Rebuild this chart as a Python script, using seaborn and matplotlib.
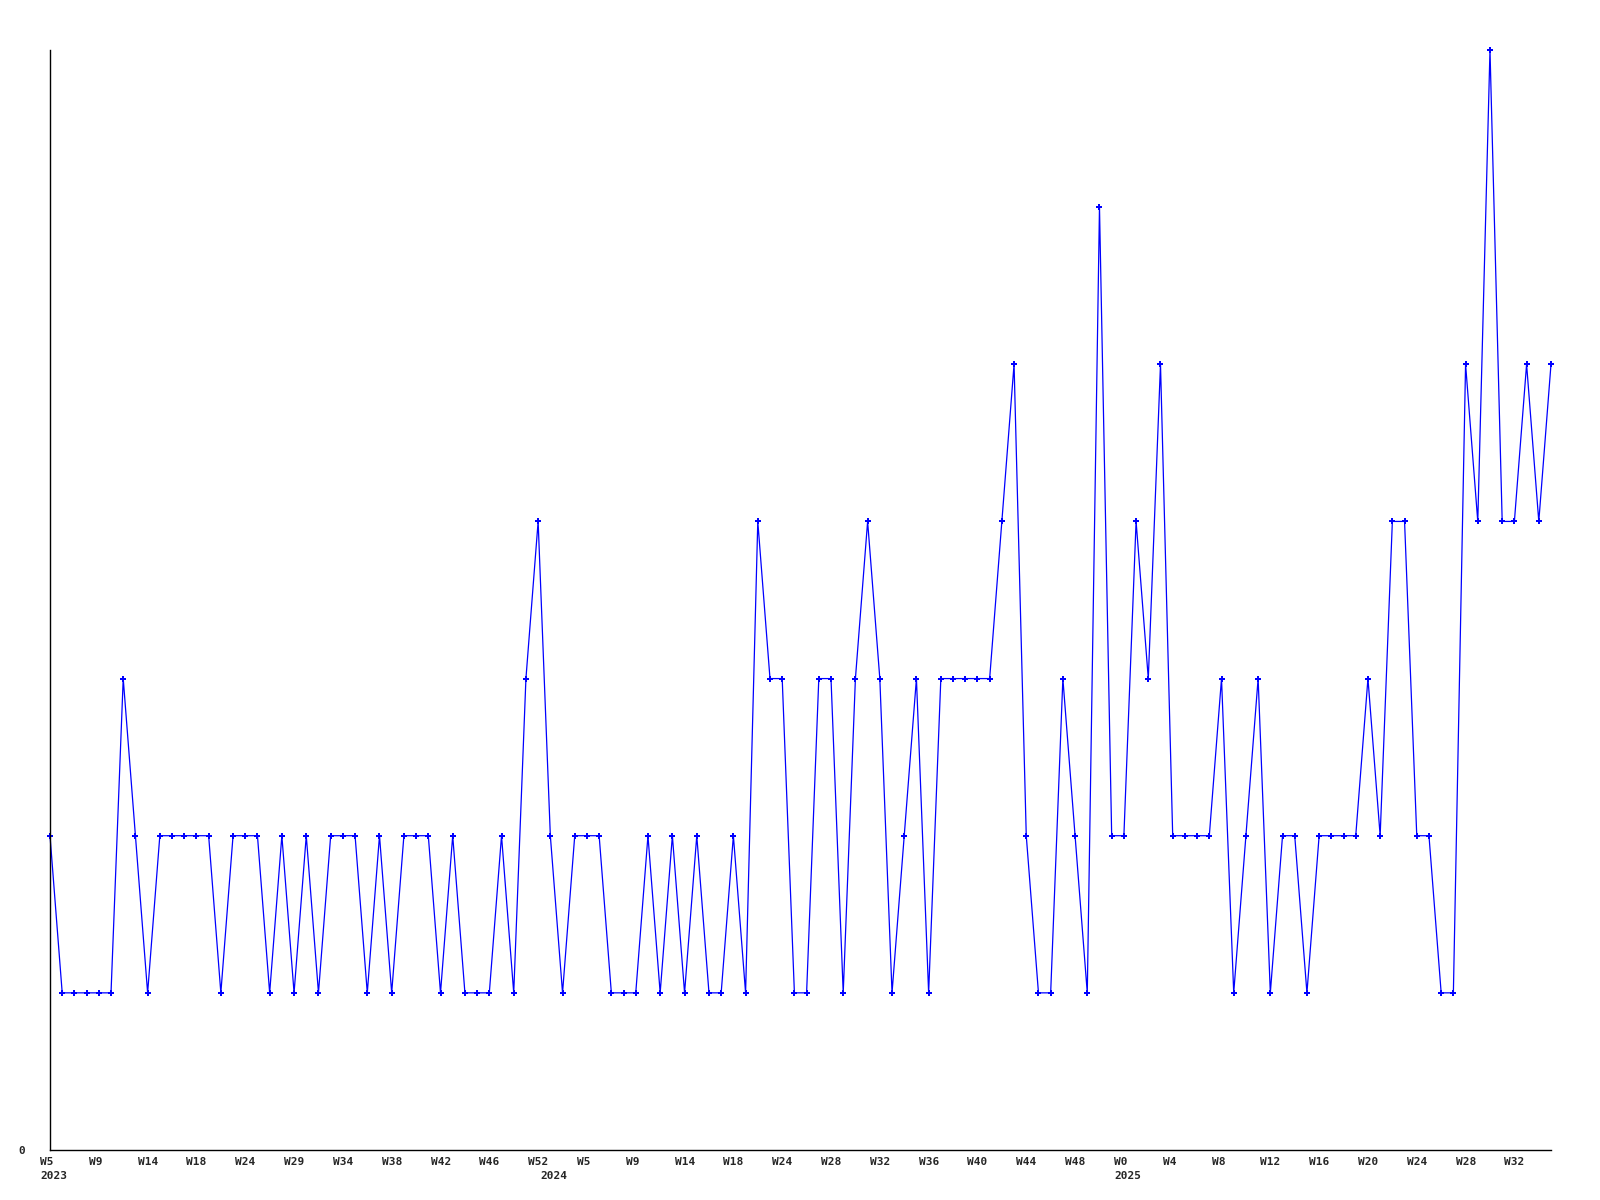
import matplotlib
matplotlib.use('Agg')
import matplotlib.pyplot as plt
import matplotlib.transforms as mtransforms
import seaborn as sns
import pandas as pd

# weekly counts, one point per week that had data
values = [2, 1, 1, 1, 1, 1, 3, 2, 1, 2, 2, 2, 2, 2, 1, 2, 2, 2, 1, 2,
          1, 2, 1, 2, 2, 2, 1, 2, 1, 2, 2, 2, 1, 2, 1, 1, 1, 2, 1, 3,
          4, 2, 1, 2, 2, 2, 1, 1, 1, 2, 1, 2, 1, 2, 1, 1, 2, 1, 4, 3,
          3, 1, 1, 3, 3, 1, 3, 4, 3, 1, 2, 3, 1, 3, 3, 3, 3, 3, 4, 5,
          2, 1, 1, 3, 2, 1, 6, 2, 2, 4, 3, 5, 2, 2, 2, 2, 3, 1, 2, 3,
          1, 2, 2, 1, 2, 2, 2, 2, 3, 2, 4, 4, 2, 2, 1, 1, 5, 4, 7, 4,
          4, 5, 4, 5]

week_labels = ['W5', 'W9', 'W14', 'W18', 'W24', 'W29', 'W34', 'W38', 'W42', 'W46', 'W52',
               'W5', 'W9', 'W14', 'W18', 'W24', 'W28', 'W32', 'W36', 'W40', 'W44', 'W48',
               'W0', 'W4', 'W8', 'W12', 'W16', 'W20', 'W24', 'W28', 'W32']
week_label_pos = list(range(0, 121, 4))

years = ['2023', '2024', '2025']
year_pos = [0, 41, 88]

df = pd.DataFrame({'idx': range(len(values)), 'count': values})

sns.set_style('white')
plt.rcParams['font.family'] = ['DejaVu Sans Mono']
plt.rcParams['font.weight'] = 'bold'

fig = plt.figure(figsize=(16, 12), dpi=100)
ax = fig.add_axes([50 / 1600, 50 / 1200, 1501 / 1600, 1100 / 1200])

sns.lineplot(data=df, x='idx', y='count', ax=ax, color='#0000ff', linewidth=0.9,
             marker='P', markersize=4, markeredgewidth=0, clip_on=False)

ax.set_xlim(0, len(values) - 1)
ax.set_ylim(0, max(values))

for s in ['top', 'right']:
    ax.spines[s].set_visible(False)
for s in ['left', 'bottom']:
    ax.spines[s].set_color('black')
    ax.spines[s].set_linewidth(1.0)

# years sit under some week ticks, keep both
ax.xaxis.remove_overlapping_locs = False
ax.set_xticks(week_label_pos)
ax.set_xticklabels(week_labels, ha='left', fontsize=8, fontweight='bold')
ax.set_xticks(year_pos, minor=True)
ax.set_xticklabels(years, minor=True, ha='left', fontsize=8, fontweight='bold')
ax.tick_params(axis='x', which='major', length=0, pad=5)
ax.tick_params(axis='x', which='minor', length=0, pad=15)

ax.set_yticks([0])
ax.set_yticklabels(['0'], fontsize=8, fontweight='bold')
ax.tick_params(axis='y', length=0, pad=18)

shift = mtransforms.ScaledTranslation(-10 / 100, 0, fig.dpi_scale_trans)
for lab in ax.get_xticklabels(which='both'):
    lab.set_transform(lab.get_transform() + shift)

ax.set_xlabel('')
ax.set_ylabel('')
ax.grid(False)

fig.savefig('out.png', dpi=100)
